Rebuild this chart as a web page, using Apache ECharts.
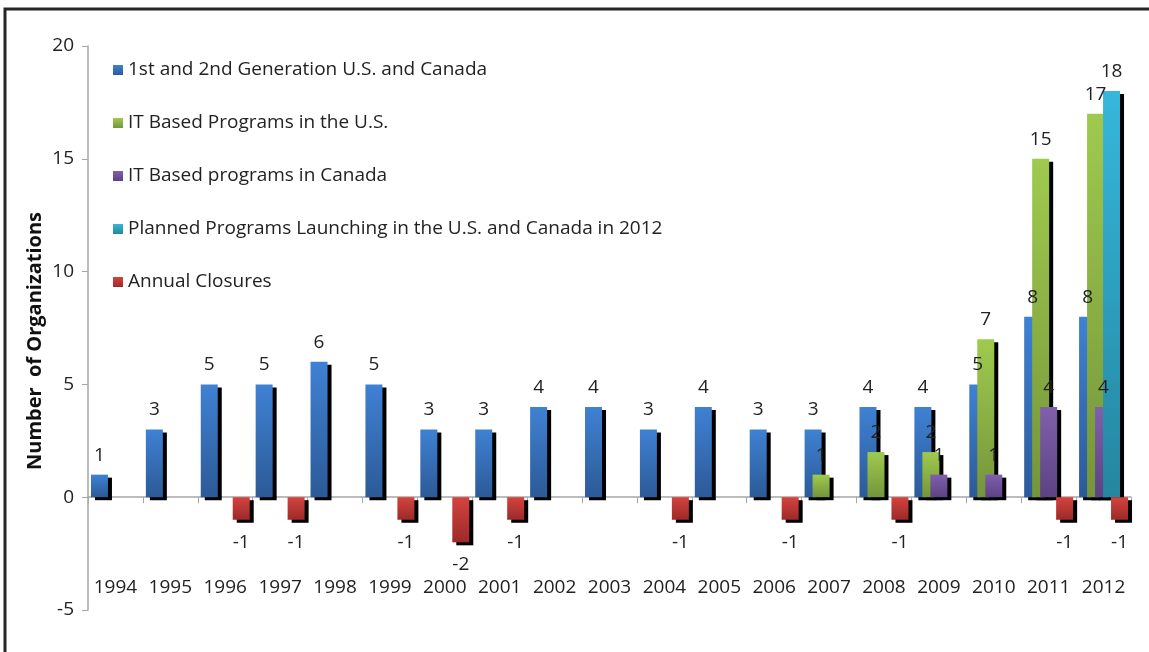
<!DOCTYPE html>
<html><head><meta charset="utf-8">
<script src="https://cdn.jsdelivr.net/npm/echarts/dist/echarts.min.js"></script>
<style>html,body{margin:0;padding:0;background:#fff}#c{width:1149px;height:652px}</style>
</head><body><div id="c"></div>
<script>
const categories = ['1994','1995','1996','1997','1998','1999','2000','2001','2002','2003','2004','2005','2006','2007','2008','2009','2010','2011','2012'];
const seriesNames = ['1st and 2nd Generation U.S. and Canada','IT Based Programs in the U.S.','IT Based programs in Canada','Planned Programs Launching in the U.S. and Canada in 2012','Annual Closures'];
const gen12    = [1,3,5,5,6,5,3,3,4,4,3,4,3,3,4,4,5,8,8];
const itUS     = [null,null,null,null,null,null,null,null,null,null,null,null,null,1,2,2,7,15,17];
const itCanada = [null,null,null,null,null,null,null,null,null,null,null,null,null,null,null,1,1,4,4];
const planned  = [null,null,null,null,null,null,null,null,null,null,null,null,null,null,null,null,null,null,18];
const closures = [null,null,-1,-1,null,-1,-2,-1,null,null,-1,null,-1,null,-1,null,null,-1,-1];
const yTicks = {min:-5, max:20, interval:5};
const yTitle = 'Number  of Organizations';

const FONT = 'Open Sans';
const grads = [
  ['#3F81D3','#2C5A97'],
  ['#9FCA4E','#74953A'],
  ['#8060AC','#5C4283'],
  ['#36B7DC','#25869F'],
  ['#D4433E','#9C2A29']
];
const datas = [gen12, itUS, itCanada, planned, closures];
const chart = echarts.init(document.getElementById('c'), null, {renderer:'canvas'});
const series = datas.map((d,i)=>({
  name: seriesNames[i],
  type: 'bar',
  xAxisIndex: 0,
  data: d,
  barWidth: 17,
  barGap: '-53%',
  itemStyle: {
    color: new echarts.graphic.LinearGradient(0,0,0,1,[{offset:0,color:grads[i][0]},{offset:1,color:grads[i][1]}]),
    shadowColor: '#000', shadowBlur: 0, shadowOffsetX: 4, shadowOffsetY: 3
  },
  label: {
    show: true,
    position: i===4 ? 'bottom' : 'top',
    distance: i===4 ? 13 : 10,
    formatter: '{c}',
    fontFamily: FONT, fontSize: 19, color: '#222'
  },
  emphasis: {disabled: true}
}));
chart.setOption({
  animation: false,
  backgroundColor: '#fff',
  grid: {left: 88, right: 18, top: 46, bottom: 42, containLabel: false, outerBoundsMode: 'none'},
  legend: {
    orient: 'vertical', left: 108, top: 55,
    itemWidth: 10, itemHeight: 10, itemGap: 33,
    icon: 'rect',
    selectedMode: false,
    itemStyle: {shadowColor: 'rgba(0,0,0,0)', shadowOffsetX: 0, shadowOffsetY: 0},
    textStyle: {fontFamily: FONT, fontSize: 19, lineHeight: 20, color: '#222'},
    data: seriesNames
  },
  xAxis: [{
    type: 'category', data: categories,
    axisLine: {onZero: true, lineStyle: {color: '#A6A6A6', width: 1.5}},
    axisTick: {show: true, length: 6, lineStyle: {color: '#A6A6A6'}},
    axisLabel: {show: false},
    splitLine: {show: false}
  }, {
    type: 'category', data: categories, position: 'bottom',
    axisLine: {show: false, onZero: false},
    axisTick: {show: false},
    axisLabel: {show: true, inside: true, margin: 13, interval: 0, fontFamily: FONT, fontSize: 19, color: '#222'},
    splitLine: {show: false}
  }],
  yAxis: {
    type: 'value', min: yTicks.min, max: yTicks.max, interval: yTicks.interval,
    axisLine: {show: true, lineStyle: {color: '#A6A6A6', width: 1.5}},
    axisTick: {show: true, length: 6, lineStyle: {color: '#A6A6A6'}},
    axisLabel: {margin: 14, fontFamily: FONT, fontSize: 19, color: '#222'},
    splitLine: {show: false}
  },
  graphic: [
    {type: 'polyline', z: -10, silent: true, shape: {points: [[5, 660], [5, 9], [1160, 9]]}, style: {fill: null, stroke: '#262626', lineWidth: 3}},
    {type: 'text', x: 35, y: 341, rotation: Math.PI/2, silent: true,
     style: {text: yTitle, fontFamily: FONT, fontSize: 20, fontWeight: 'bold', fill: '#111', align: 'center', verticalAlign: 'middle'}}
  ],
  series: series
});
</script></body></html>
